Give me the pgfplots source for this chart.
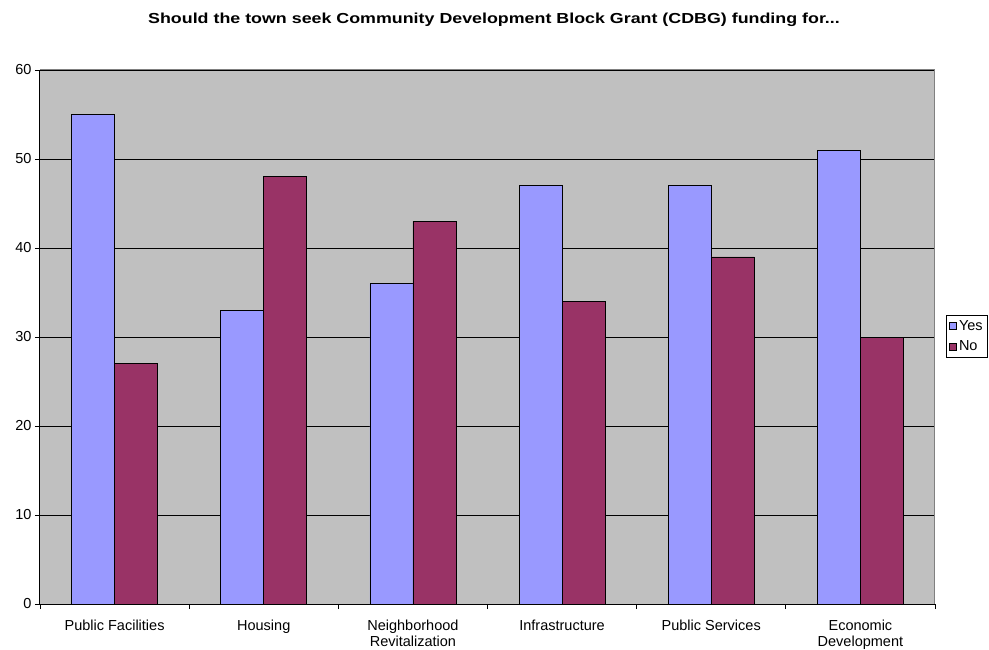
\documentclass[border=0pt]{standalone}
\usepackage{fontspec}
\setmainfont{Liberation Sans}
\newfontfamily\titlefont[FakeStretch=1.23]{Liberation Sans}
\usepackage{pgfplots}
\pgfplotsset{compat=1.18}
\definecolor{yescol}{HTML}{9999FF}
\definecolor{nocol}{HTML}{993366}
\definecolor{bgcol}{HTML}{C0C0C0}
\definecolor{framecol}{HTML}{808080}
\begin{document}
\begin{tikzpicture}[x=1pt,y=1pt]
\useasboundingbox (0,0) rectangle (989,649);
\begin{axis}[
  at={(40pt,45pt)}, anchor=south west,
  scale only axis, width=895pt, height=534pt,
  xmin=-0.5, xmax=5.5, ymin=0, ymax=60,
  ytick={0,10,...,60},
  xtick={-0.5,0.5,...,5.5},
  x tick label as interval,
  xticklabels={Public Facilities,Housing,{Neighborhood\\Revitalization},Infrastructure,Public Services,{Economic\\Development}},
  x tick label style={align=center, font=\fontsize{14.5}{16}\selectfont, yshift=-7pt},
  y tick label style={font=\fontsize{14.5}{16}\selectfont},
  /pgf/number format/assume math mode=true,
  axis x line*=bottom, axis y line*=left,
  axis line style={black, line width=1pt, -},
  tick align=outside, major tick length=5pt,
  tick style={black, line width=0.8pt},
  ymajorgrids, grid style={black, line width=0.8pt},
  axis background/.style={fill=bgcol},
  ybar=0pt, bar width=43pt,
  legend style={at={(rel axis cs:1.0123,0.5412)}, anchor=north west, draw=black, fill=white,
    font=\fontsize{14.5}{16}\selectfont, inner sep=3pt, row sep=5pt, legend cell align=left},
  legend image code/.code={\draw[#1,draw=black,line width=0.8pt] (0pt,-3.5pt) rectangle (7pt,3.5pt);},
]
\addplot[fill=yescol, draw=black, line width=0.8pt] coordinates {(0,55) (1,33) (2,36) (3,47) (4,47) (5,51)};
\addplot[fill=nocol, draw=black, line width=0.8pt] coordinates {(0,27) (1,48) (2,43) (3,34) (4,39) (5,30)};
\legend{Yes,No}
\draw[framecol, line width=1pt] (rel axis cs:0,1) -- (rel axis cs:1,1) -- (rel axis cs:1,0);
\end{axis}
\node[font=\titlefont\bfseries\fontsize{14.5}{16}\selectfont] at (494,629) {Should the town seek Community Development Block Grant (CDBG) funding for...};
\end{tikzpicture}
\end{document}
